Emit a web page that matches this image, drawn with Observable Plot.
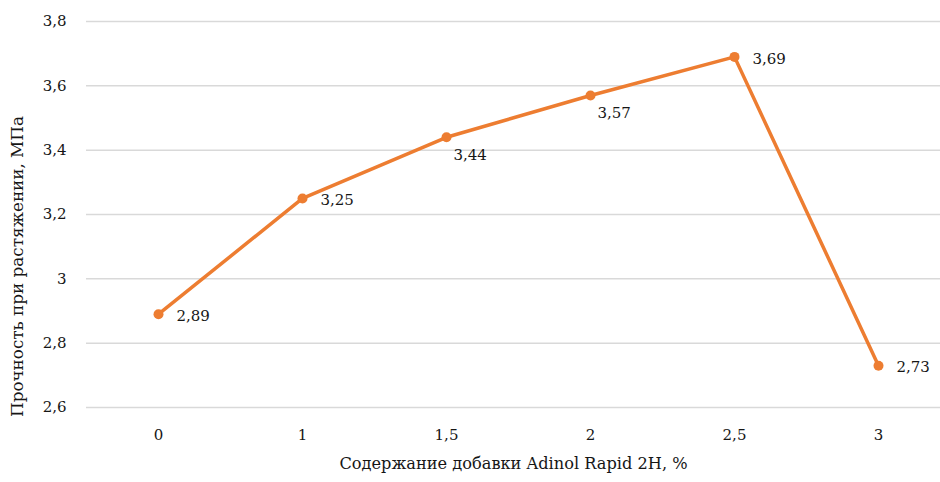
<!DOCTYPE html>
<html>
<head>
<meta charset="utf-8">
<script src="https://cdn.jsdelivr.net/npm/d3@7"></script>
<script src="https://cdn.jsdelivr.net/npm/@observablehq/plot@0.6"></script>
<style>
  html, body { margin: 0; padding: 0; background: #fff; }
  #chart svg { display: block; }
  #chart svg text { font-family: "DejaVu Serif", serif; }
</style>
</head>
<body>
<div id="chart"></div>
<script>
const categories = ["0", "1", "1,5", "2", "2,5", "3"];
const values = [2.89, 3.25, 3.44, 3.57, 3.69, 2.73];
const yTicks = [2.6, 2.8, 3.0, 3.2, 3.4, 3.6, 3.8];
const xTitle = "Содержание добавки Adinol Rapid 2H, %";
const yTitle = "Прочность при растяжении, МПа";
const belowLabels = ["1,5", "2"];

const data = categories.map((c, i) => ({cat: c, value: values[i]}));
const comma = v => String(v).replace(".", ",");
const orange = "#ED7D31";
const ink = "#161616";
const font = "'DejaVu Serif', serif";

const chart = Plot.plot({
  width: 940,
  height: 482,
  marginTop: 21,
  marginBottom: 75,
  marginLeft: 86,
  marginRight: 0,
  style: {fontFamily: font, fontSize: "15px", color: ink, background: "#fff"},
  x: {type: "point", domain: categories, range: [158, 878], padding: 0},
  y: {domain: [2.6, 3.8]},
  marks: [
    Plot.ruleY(yTicks, {stroke: "#d9d9d9", strokeWidth: 1.5}),
    Plot.axisY({ticks: yTicks, tickSize: 0, tickPadding: 20, tickFormat: comma, label: null, fontSize: 15, fill: ink}),
    Plot.axisX({tickSize: 0, tickPadding: 22, label: null, fontSize: 15, fill: ink}),
    Plot.line(data, {x: "cat", y: "value", stroke: orange, strokeWidth: 3.5}),
    Plot.dot(data, {x: "cat", y: "value", fill: orange, r: 5}),
    Plot.text(data.filter(d => !belowLabels.includes(d.cat)), {x: "cat", y: "value", text: d => comma(d.value), textAnchor: "start", dx: 18, dy: 2, fontSize: 15, fill: ink}),
    Plot.text(data.filter(d => belowLabels.includes(d.cat)), {x: "cat", y: "value", text: d => comma(d.value), textAnchor: "start", dx: 7, dy: 18, fontSize: 15, fill: ink}),
    Plot.text([xTitle], {frameAnchor: "bottom", dy: 61, fontSize: 16.2, fill: ink}),
    Plot.text([yTitle], {frameAnchor: "left", textAnchor: "middle", dx: -69, dy: 52, rotate: -90, fontSize: 16.8, fill: ink})
  ]
});
document.getElementById("chart").appendChild(chart);
</script>
</body>
</html>
